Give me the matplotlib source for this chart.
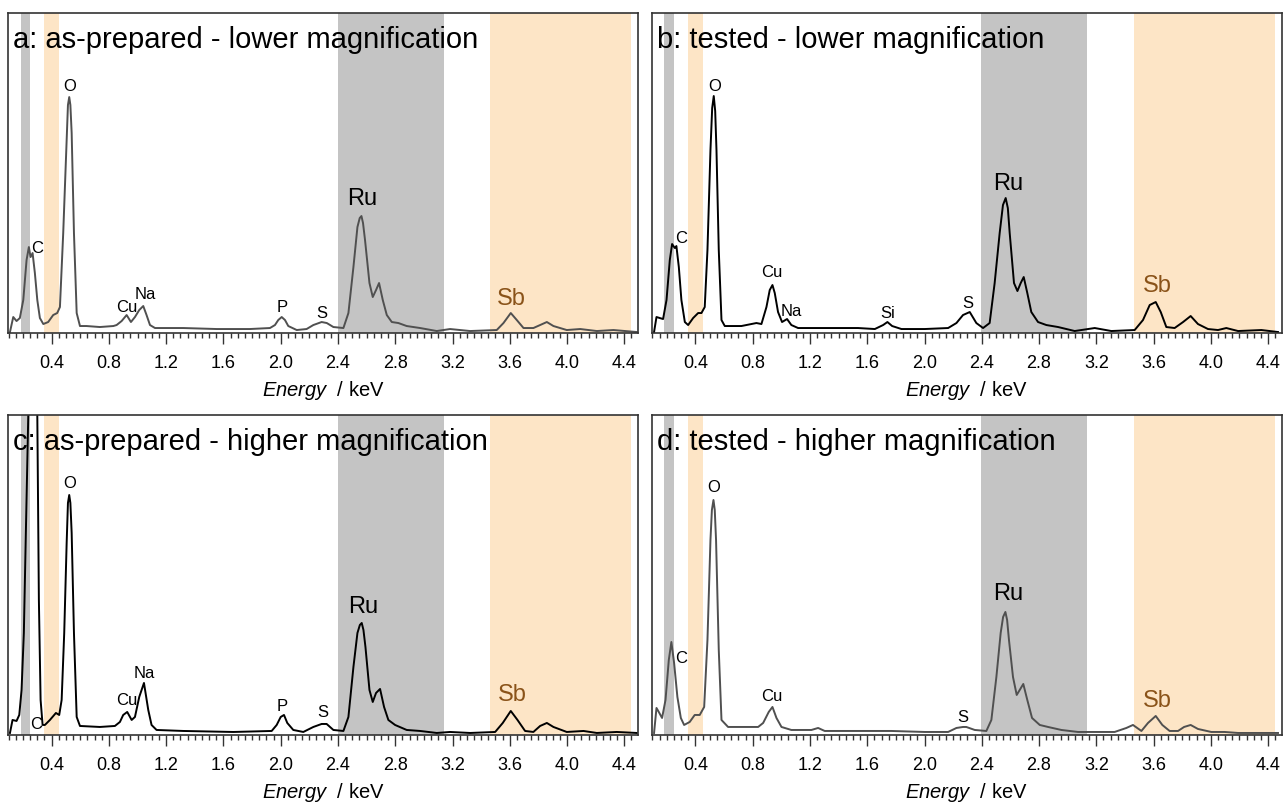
import numpy as np
import matplotlib.pyplot as plt
from matplotlib.ticker import MultipleLocator

plt.rcParams['font.family'] = ['Liberation Sans', 'DejaVu Sans']
plt.rcParams['mathtext.fontset'] = 'custom'
plt.rcParams['mathtext.rm'] = 'Liberation Sans'
plt.rcParams['mathtext.it'] = 'Liberation Sans:italic'

# === spectra (energy in keV, intensity in arbitrary counts) ===
energy_a = [0.109, 0.132, 0.155, 0.178, 0.202, 0.225, 0.241, 0.253, 0.267, 0.283,
            0.300, 0.318, 0.342, 0.376, 0.411, 0.439, 0.458, 0.481, 0.505, 0.514,
            0.523, 0.531, 0.540, 0.556, 0.575, 0.598, 0.644, 0.737, 0.831, 0.854,
            0.889, 0.924, 0.954, 0.982, 1.012, 1.040, 1.063, 1.087, 1.122, 1.320,
            1.553, 1.785, 1.925, 1.960, 1.983, 2.007, 2.030, 2.053, 2.112, 2.181,
            2.228, 2.286, 2.322, 2.368, 2.438, 2.473, 2.508, 2.536, 2.552, 2.564,
            2.575, 2.589, 2.620, 2.643, 2.666, 2.687, 2.713, 2.741, 2.776, 2.822,
            2.880, 2.974, 3.090, 3.183, 3.323, 3.509, 3.556, 3.607, 3.649, 3.696,
            3.765, 3.812, 3.859, 3.905, 3.998, 4.092, 4.208, 4.324, 4.487]
counts_a = [1, 16, 12, 15, 33, 73, 86, 76, 80, 60,
            33, 15, 9, 11, 18, 20, 26, 100, 193, 228,
            236, 228, 200, 100, 20, 7, 7, 6, 7, 8,
            12, 18, 11, 16, 23, 27, 18, 8, 5, 5,
            4, 4, 5, 8, 13, 16, 13, 7, 3, 4,
            8, 11, 10, 6, 5, 20, 66, 106, 115, 117,
            110, 93, 50, 36, 43, 50, 33, 18, 11, 10,
            7, 5, 2, 4, 2, 3, 10, 20, 13, 5,
            5, 8, 11, 7, 3, 4, 2, 3, 1]

energy_b = [0.111, 0.128, 0.151, 0.174, 0.198, 0.221, 0.237, 0.256, 0.267, 0.284,
            0.302, 0.326, 0.349, 0.384, 0.419, 0.442, 0.465, 0.484, 0.505, 0.517,
            0.528, 0.538, 0.547, 0.563, 0.582, 0.605, 0.721, 0.791, 0.826, 0.861,
            0.896, 0.919, 0.938, 0.954, 0.977, 1.005, 1.040, 1.070, 1.117, 1.303,
            1.536, 1.653, 1.711, 1.741, 1.774, 1.839, 2.002, 2.165, 2.223, 2.269,
            2.316, 2.362, 2.409, 2.455, 2.490, 2.525, 2.548, 2.567, 2.582, 2.595,
            2.625, 2.649, 2.672, 2.693, 2.718, 2.746, 2.793, 2.851, 2.933, 3.049,
            3.189, 3.305, 3.468, 3.526, 3.573, 3.615, 3.650, 3.689, 3.747, 3.806,
            3.859, 3.910, 3.980, 4.050, 4.108, 4.190, 4.353, 4.469]
counts_b = [1, 16, 15, 14, 33, 73, 89, 85, 87, 66,
            33, 11, 8, 15, 20, 20, 26, 83, 183, 225,
            237, 222, 183, 83, 13, 7, 7, 9, 10, 9,
            26, 43, 48, 40, 21, 11, 14, 8, 5, 5,
            5, 4, 8, 11, 7, 4, 4, 5, 10, 18,
            21, 10, 5, 10, 50, 100, 128, 135, 125, 100,
            50, 42, 50, 56, 40, 21, 11, 8, 6, 2,
            5, 2, 3, 13, 28, 31, 21, 6, 5, 11,
            17, 9, 4, 3, 5, 2, 3, 1]

energy_c = [0.109, 0.127, 0.155, 0.174, 0.190, 0.206, 0.220, 0.237, 0.244, 0.272,
            0.300, 0.311, 0.323, 0.337, 0.353, 0.388, 0.430, 0.453, 0.470, 0.488,
            0.505, 0.514, 0.523, 0.531, 0.540, 0.556, 0.575, 0.598, 0.737, 0.842,
            0.877, 0.900, 0.928, 0.959, 0.982, 1.012, 1.045, 1.075, 1.098, 1.133,
            1.320, 1.669, 1.937, 1.972, 2.000, 2.023, 2.046, 2.088, 2.158, 2.228,
            2.286, 2.321, 2.368, 2.438, 2.473, 2.508, 2.536, 2.553, 2.566, 2.578,
            2.592, 2.620, 2.643, 2.666, 2.694, 2.722, 2.752, 2.799, 2.880, 2.974,
            3.090, 3.183, 3.323, 3.498, 3.551, 3.607, 3.654, 3.707, 3.765, 3.812,
            3.859, 3.905, 3.998, 4.115, 4.208, 4.347, 4.487]
counts_c = [2, 15, 14, 20, 45, 102, 202, 320, 360, 460,
            320, 135, 35, 10, 10, 15, 22, 20, 35, 102,
            192, 232, 240, 232, 202, 102, 18, 9, 8, 9,
            13, 20, 23, 15, 18, 38, 52, 25, 10, 5,
            4, 3, 4, 10, 18, 20, 12, 5, 3, 8,
            11, 11, 5, 4, 18, 68, 102, 110, 112, 105,
            88, 45, 33, 42, 46, 28, 15, 10, 5, 4,
            2, 3, 2, 3, 12, 24, 15, 4, 3, 9,
            12, 8, 3, 4, 2, 3, 2]

energy_d = [0.111, 0.128, 0.144, 0.167, 0.191, 0.214, 0.232, 0.251, 0.274, 0.298,
            0.321, 0.360, 0.395, 0.430, 0.461, 0.484, 0.505, 0.515, 0.526, 0.535,
            0.544, 0.563, 0.582, 0.628, 0.768, 0.838, 0.873, 0.912, 0.938, 0.966,
            1.001, 1.070, 1.210, 1.257, 1.303, 1.536, 1.769, 2.002, 2.165, 2.223,
            2.269, 2.292, 2.351, 2.432, 2.467, 2.502, 2.532, 2.549, 2.565, 2.577,
            2.590, 2.618, 2.644, 2.665, 2.690, 2.718, 2.751, 2.805, 2.863, 2.956,
            3.072, 3.189, 3.328, 3.410, 3.456, 3.515, 3.561, 3.615, 3.661, 3.712,
            3.771, 3.813, 3.859, 3.910, 4.003, 4.096, 4.190, 4.353, 4.469]
counts_d = [2, 27, 23, 17, 35, 75, 93, 72, 38, 17,
            10, 13, 20, 20, 28, 95, 195, 225, 235, 225,
            195, 85, 15, 8, 8, 8, 12, 23, 28, 17,
            8, 5, 5, 7, 4, 4, 4, 3, 3, 7,
            8, 8, 5, 4, 15, 58, 102, 118, 123, 115,
            95, 58, 40, 45, 51, 35, 17, 10, 8, 5,
            3, 3, 3, 7, 10, 4, 12, 19, 10, 4,
            4, 8, 10, 6, 3, 3, 2, 2, 2]

titles = ['a: as-prepared - lower magnification',
          'b: tested - lower magnification',
          'c: as-prepared - higher magnification',
          'd: tested - higher magnification']

# element labels: (text, energy, height)
peaks_a = [('C', 0.300, 85), ('O', 0.523, 247), ('Cu', 0.924, 26), ('Na', 1.056, 39),
           ('P', 2.013, 26), ('S', 2.286, 20), ('Ru', 2.566, 134), ('Sb', 3.614, 34)]
peaks_b = [('C', 0.297, 95), ('O', 0.533, 247), ('Cu', 0.935, 61), ('Na', 1.070, 22),
           ('Si', 1.745, 20), ('S', 2.304, 30), ('Ru', 2.583, 149), ('Sb', 3.626, 47)]
peaks_c = [('C', 0.290, 10), ('O', 0.528, 251), ('Cu', 0.924, 34), ('Na', 1.045, 61),
           ('P', 2.013, 28), ('S', 2.293, 22), ('Ru', 2.578, 128), ('Sb', 3.621, 40)]
peaks_d = [('C', 0.297, 76), ('O', 0.530, 247), ('Cu', 0.935, 38), ('S', 2.269, 17),
           ('Ru', 2.583, 141), ('Sb', 3.626, 34)]

# highlighted energy windows (Ru: gray, Sb: orange)
bands = [(0.183, 0.250, '#c4c4c4'), (0.348, 0.453, '#fde5c6'),
         (2.398, 3.138, '#c4c4c4'), (3.460, 4.447, '#fde5c6')]

GRAY_LINE = '#505050'
SB_COLOR = '#8a5319'

panels = [
    (energy_a, counts_a, peaks_a, titles[0], GRAY_LINE, [0.0062, 0.5863]),
    (energy_b, counts_b, peaks_b, titles[1], 'black', [0.5080, 0.5863]),
    (energy_c, counts_c, peaks_c, titles[2], 'black', [0.0062, 0.0870]),
    (energy_d, counts_d, peaks_d, titles[3], GRAY_LINE, [0.5080, 0.0870]),
]

fig = plt.figure(figsize=(12.83, 8.05), dpi=100)

for energy, counts, peaks, title, color, (left, bottom) in panels:
    ax = fig.add_axes([left, bottom, 0.491, 0.3975])
    for lo, hi, c in bands:
        ax.axvspan(lo, hi, color=c, lw=0, zorder=0)
    ax.plot(energy, counts, color=color, lw=1.4, zorder=2)

    for name, e, h in peaks:
        if name in ('Ru', 'Sb'):
            ax.text(e, h, name, ha='center', va='center', fontsize=17,
                    color=SB_COLOR if name == 'Sb' else 'black')
        else:
            ax.text(e, h, name, ha='center', va='center', fontsize=12)

    ax.text(0.008, 0.89, title, transform=ax.transAxes, fontsize=21,
            ha='left', va='baseline')

    ax.set_xlim(0.095, 4.495)
    ax.set_ylim(0, 320)
    ax.xaxis.set_major_locator(MultipleLocator(0.4))
    ax.xaxis.set_minor_locator(MultipleLocator(0.05))
    ax.xaxis.set_major_formatter(plt.FuncFormatter(lambda v, p: f'{v:.1f}'))
    ax.tick_params(axis='x', which='major', length=8, width=1, pad=8,
                   labelsize=13, color='#333333')
    ax.tick_params(axis='x', which='minor', length=3.5, width=1, color='#333333')
    ax.set_yticks([])
    for sp in ax.spines.values():
        sp.set_linewidth(1.2)
        sp.set_color('#333333')
    ax.set_xlabel(r'$\mathit{Energy}$  / keV', fontsize=14.5, labelpad=5)

fig.savefig('out.png', dpi=100)
